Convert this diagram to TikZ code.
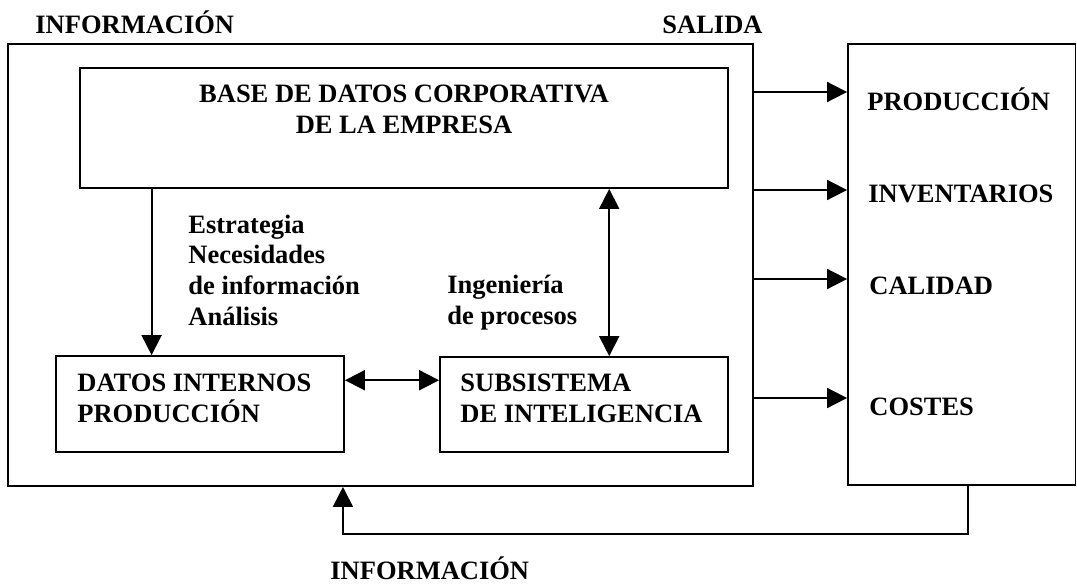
\documentclass[tikz,border=0pt]{standalone}
\usepackage{fontspec}
\setmainfont{Liberation Serif}
\usetikzlibrary{arrows.meta,calc}
\tikzset{
    plain-box/.style = {draw, line width=0.9pt, rectangle, inner sep=0pt},
    box-text/.style = {font=\fontsize{13.25}{15.4}\selectfont\bfseries, inner sep=0pt, anchor=base west, align=left},
    flow-arrow/.style = {line width=0.9pt, -{Triangle[length=10pt, width=10pt]}},
    both-arrow/.style = {line width=0.9pt, {Triangle[length=10pt, width=10pt]}-{Triangle[length=10pt, width=10pt]}},
}

\begin{document}
\begin{tikzpicture}[x=0.5pt, y=-0.5pt]
\useasboundingbox (0,0) rectangle (1077,584);
% boxes
\node[plain-box, minimum width=372.5pt, minimum height=221pt] (sistema) at (380.5,265) {};
\node[plain-box, minimum width=113.75pt, minimum height=220.5pt] (salida) at (961.75,264.5) {};
\node[plain-box, minimum width=324pt, minimum height=60pt] (base) at (404,128) {};
\node[plain-box, minimum width=144pt, minimum height=48pt] (datos) at (200,404) {};
\node[plain-box, minimum width=144pt, minimum height=47.5pt] (subsist) at (584,404.5) {};
% texts (base = last line)
\node[box-text] (info-top) at (35,33) {INFORMACIÓN};
\node[box-text] (salida-title) at (662,33) {SALIDA};
\node[box-text] (info-bottom) at (330,579) {INFORMACIÓN};
\node[box-text, anchor=base, align=center] (base-text) at (404,133) {BASE DE DATOS CORPORATIVA\\DE LA EMPRESA};
\node[box-text] (datos-text) at (77,422) {DATOS INTERNOS\\PRODUCCIÓN};
\node[box-text] (subsist-text) at (460,422) {SUBSISTEMA\\DE INTELIGENCIA};
\node[box-text] (estrategia) at (188,325.5) {Estrategia\\Necesidades\\de información\\Análisis};
\node[box-text] (ingenieria) at (447,324) {Ingeniería\\de procesos};
\node[box-text] (prod) at (867,110) {PRODUCCIÓN};
\node[box-text] (inv) at (868,202) {INVENTARIOS};
\node[box-text] (cal) at (869,294) {CALIDAD};
\node[box-text] (cost) at (869,415) {COSTES};
% connectors
\coordinate (down-end) at ($(datos.north west)!0.333!(datos.north east)$);
\coordinate (up-end) at ($(subsist.north west)!0.587!(subsist.north east)$);
\coordinate (side-start) at ($(datos.north east)!0.257!(datos.south east)$);
\draw[flow-arrow] (base.south -| down-end) -- (down-end);
\draw[both-arrow] (base.south -| up-end) -- (up-end);
\draw[both-arrow] (side-start) -- (side-start -| subsist.west);
\foreach \n/\y in {prod/92, inv/190, cal/279, cost/398}{
    \coordinate (out-\n) at (sistema.east |- 0,\y);
    \draw[flow-arrow] (out-\n) -- (out-\n -| salida.west);
}
\coordinate (back-start) at ($(salida.south west)!0.526!(salida.south east)$);
\coordinate (back-end) at ($(sistema.south west)!0.4497!(sistema.south east)$);
\draw[flow-arrow] (back-start) -- ++(0,48) -| (back-end);
\end{tikzpicture}
\end{document}
